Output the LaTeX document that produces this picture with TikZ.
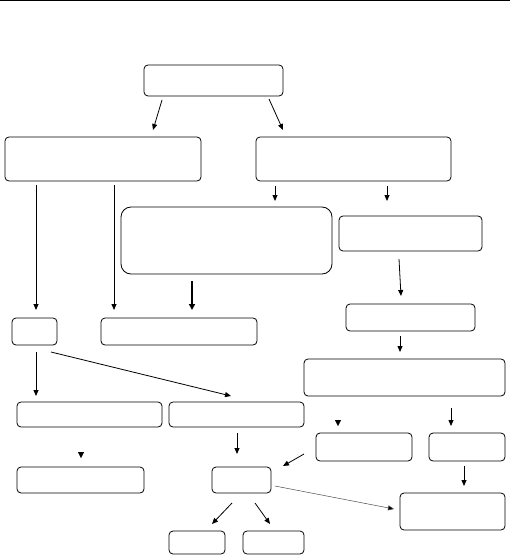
\documentclass[tikz,border=0pt]{standalone}
\usetikzlibrary{arrows.meta}
\begin{document}
\begin{tikzpicture}[x=1pt,y=-1pt,
  box/.style={draw, line width=0.8pt, rounded corners=4pt, inner sep=0pt, outer sep=0pt, anchor=north west},
  arr/.style={line width=0.8pt, -{Triangle[length=6pt,width=5pt]}},
  thickarr/.style={line width=2pt, -{Triangle[length=6pt,width=6pt]}},
  headonly/.style={line width=0.4pt, -{Triangle[length=6pt,width=6pt]}}]
\useasboundingbox (0,0) rectangle (510,556);
\draw[line width=1.5pt] (0,0.75) -- (510,0.75);
% boxes
\node[box, minimum width=139pt, minimum height=31pt] (T) at (144,65) {};
\node[box, minimum width=196pt, minimum height=44pt] (A) at (5,137) {};
\node[box, minimum width=195pt, minimum height=44pt] (B) at (256,137) {};
\node[box, rounded corners=10pt, minimum width=211pt, minimum height=67pt] (C) at (121,207) {};
\node[box, minimum width=143pt, minimum height=35pt] (F) at (339,216) {};
\node[box, minimum width=45pt, minimum height=27pt] (D) at (12,318) {};
\node[box, minimum width=156pt, minimum height=27pt] (E) at (101,318) {};
\node[box, minimum width=129pt, minimum height=27pt] (G) at (346,304) {};
\node[box, minimum width=201pt, minimum height=37pt] (H) at (304,359) {};
\node[box, minimum width=145pt, minimum height=25pt] (I) at (17,402) {};
\node[box, minimum width=135pt, minimum height=25pt] (J) at (169,402) {};
\node[box, minimum width=96pt, minimum height=28pt] (M) at (316,433) {};
\node[box, minimum width=76pt, minimum height=28pt] (Q) at (429,433) {};
\node[box, minimum width=127pt, minimum height=26pt] (K) at (17,467) {};
\node[box, minimum width=59pt, minimum height=26pt] (L) at (212,467) {};
\node[box, minimum width=105pt, minimum height=37pt] (P) at (400,493) {};
\node[box, minimum width=56pt, minimum height=23pt] (N) at (169,531) {};
\node[box, minimum width=61pt, minimum height=23pt] (O) at (243,531) {};
% connector end points
\coordinate (ta1) at (162,100); \coordinate (ta2) at (153,130);
\coordinate (tb1) at (269,99);  \coordinate (tb2) at (283,130);
\coordinate (ad1) at (36,185);  \coordinate (ad2) at (36,310);
\coordinate (ae1) at (114,185); \coordinate (ae2) at (114,310);
\coordinate (bc1) at (275,186); \coordinate (bc2) at (275,201);
\coordinate (bf1) at (387,186); \coordinate (bf2) at (387,201);
\coordinate (ce1) at (192,281); \coordinate (ce2) at (192,310);
\coordinate (fg1) at (399,259); \coordinate (fg2) at (401,296);
\coordinate (gh1) at (400,336); \coordinate (gh2) at (400,352);
\coordinate (di1) at (36,352);  \coordinate (di2) at (36,396);
\coordinate (dj1) at (51,352);  \coordinate (dj2) at (231,396);
\coordinate (jl1) at (237,433); \coordinate (jl2) at (237,454);
\coordinate (hq1) at (451,408); \coordinate (hq2) at (451,426);
\coordinate (ik1) at (81,452);  \coordinate (ik2) at (81,458);
\coordinate (hm1) at (338,420); \coordinate (hm2) at (338,426);
\coordinate (ml1) at (304,454); \coordinate (ml2) at (283,466);
\coordinate (lp1) at (275,486); \coordinate (lp2) at (394,509);
\coordinate (qp1) at (464,466); \coordinate (qp2) at (464,486);
\coordinate (ln1) at (232,503); \coordinate (ln2) at (212,524);
\coordinate (lo1) at (255,503); \coordinate (lo2) at (270,524);
% connectors
\draw[arr] (ta1) -- (ta2);
\draw[arr] (tb1) -- (tb2);
\draw[arr] (ad1) -- (ad2);
\draw[arr] (ae1) -- (ae2);
\draw[arr] (bc1) -- (bc2);
\draw[arr] (bf1) -- (bf2);
\draw[thickarr] (ce1) -- (ce2);
\draw[arr] (fg1) -- (fg2);
\draw[arr] (gh1) -- (gh2);
\draw[arr] (di1) -- (di2);
\draw[arr] (dj1) -- (dj2);
\draw[arr] (jl1) -- (jl2);
\draw[arr] (hq1) -- (hq2);
\draw[headonly] (ik1) -- (ik2);
\draw[headonly] (hm1) -- (hm2);
\draw[arr] (ml1) -- (ml2);
\draw[line width=0.5pt, draw=black!70, -{Triangle[length=6pt,width=5pt,fill=black]}] (lp1) -- (lp2);
\draw[arr] (qp1) -- (qp2);
\draw[arr] (ln1) -- (ln2);
\draw[arr] (lo1) -- (lo2);
\end{tikzpicture}
\end{document}
